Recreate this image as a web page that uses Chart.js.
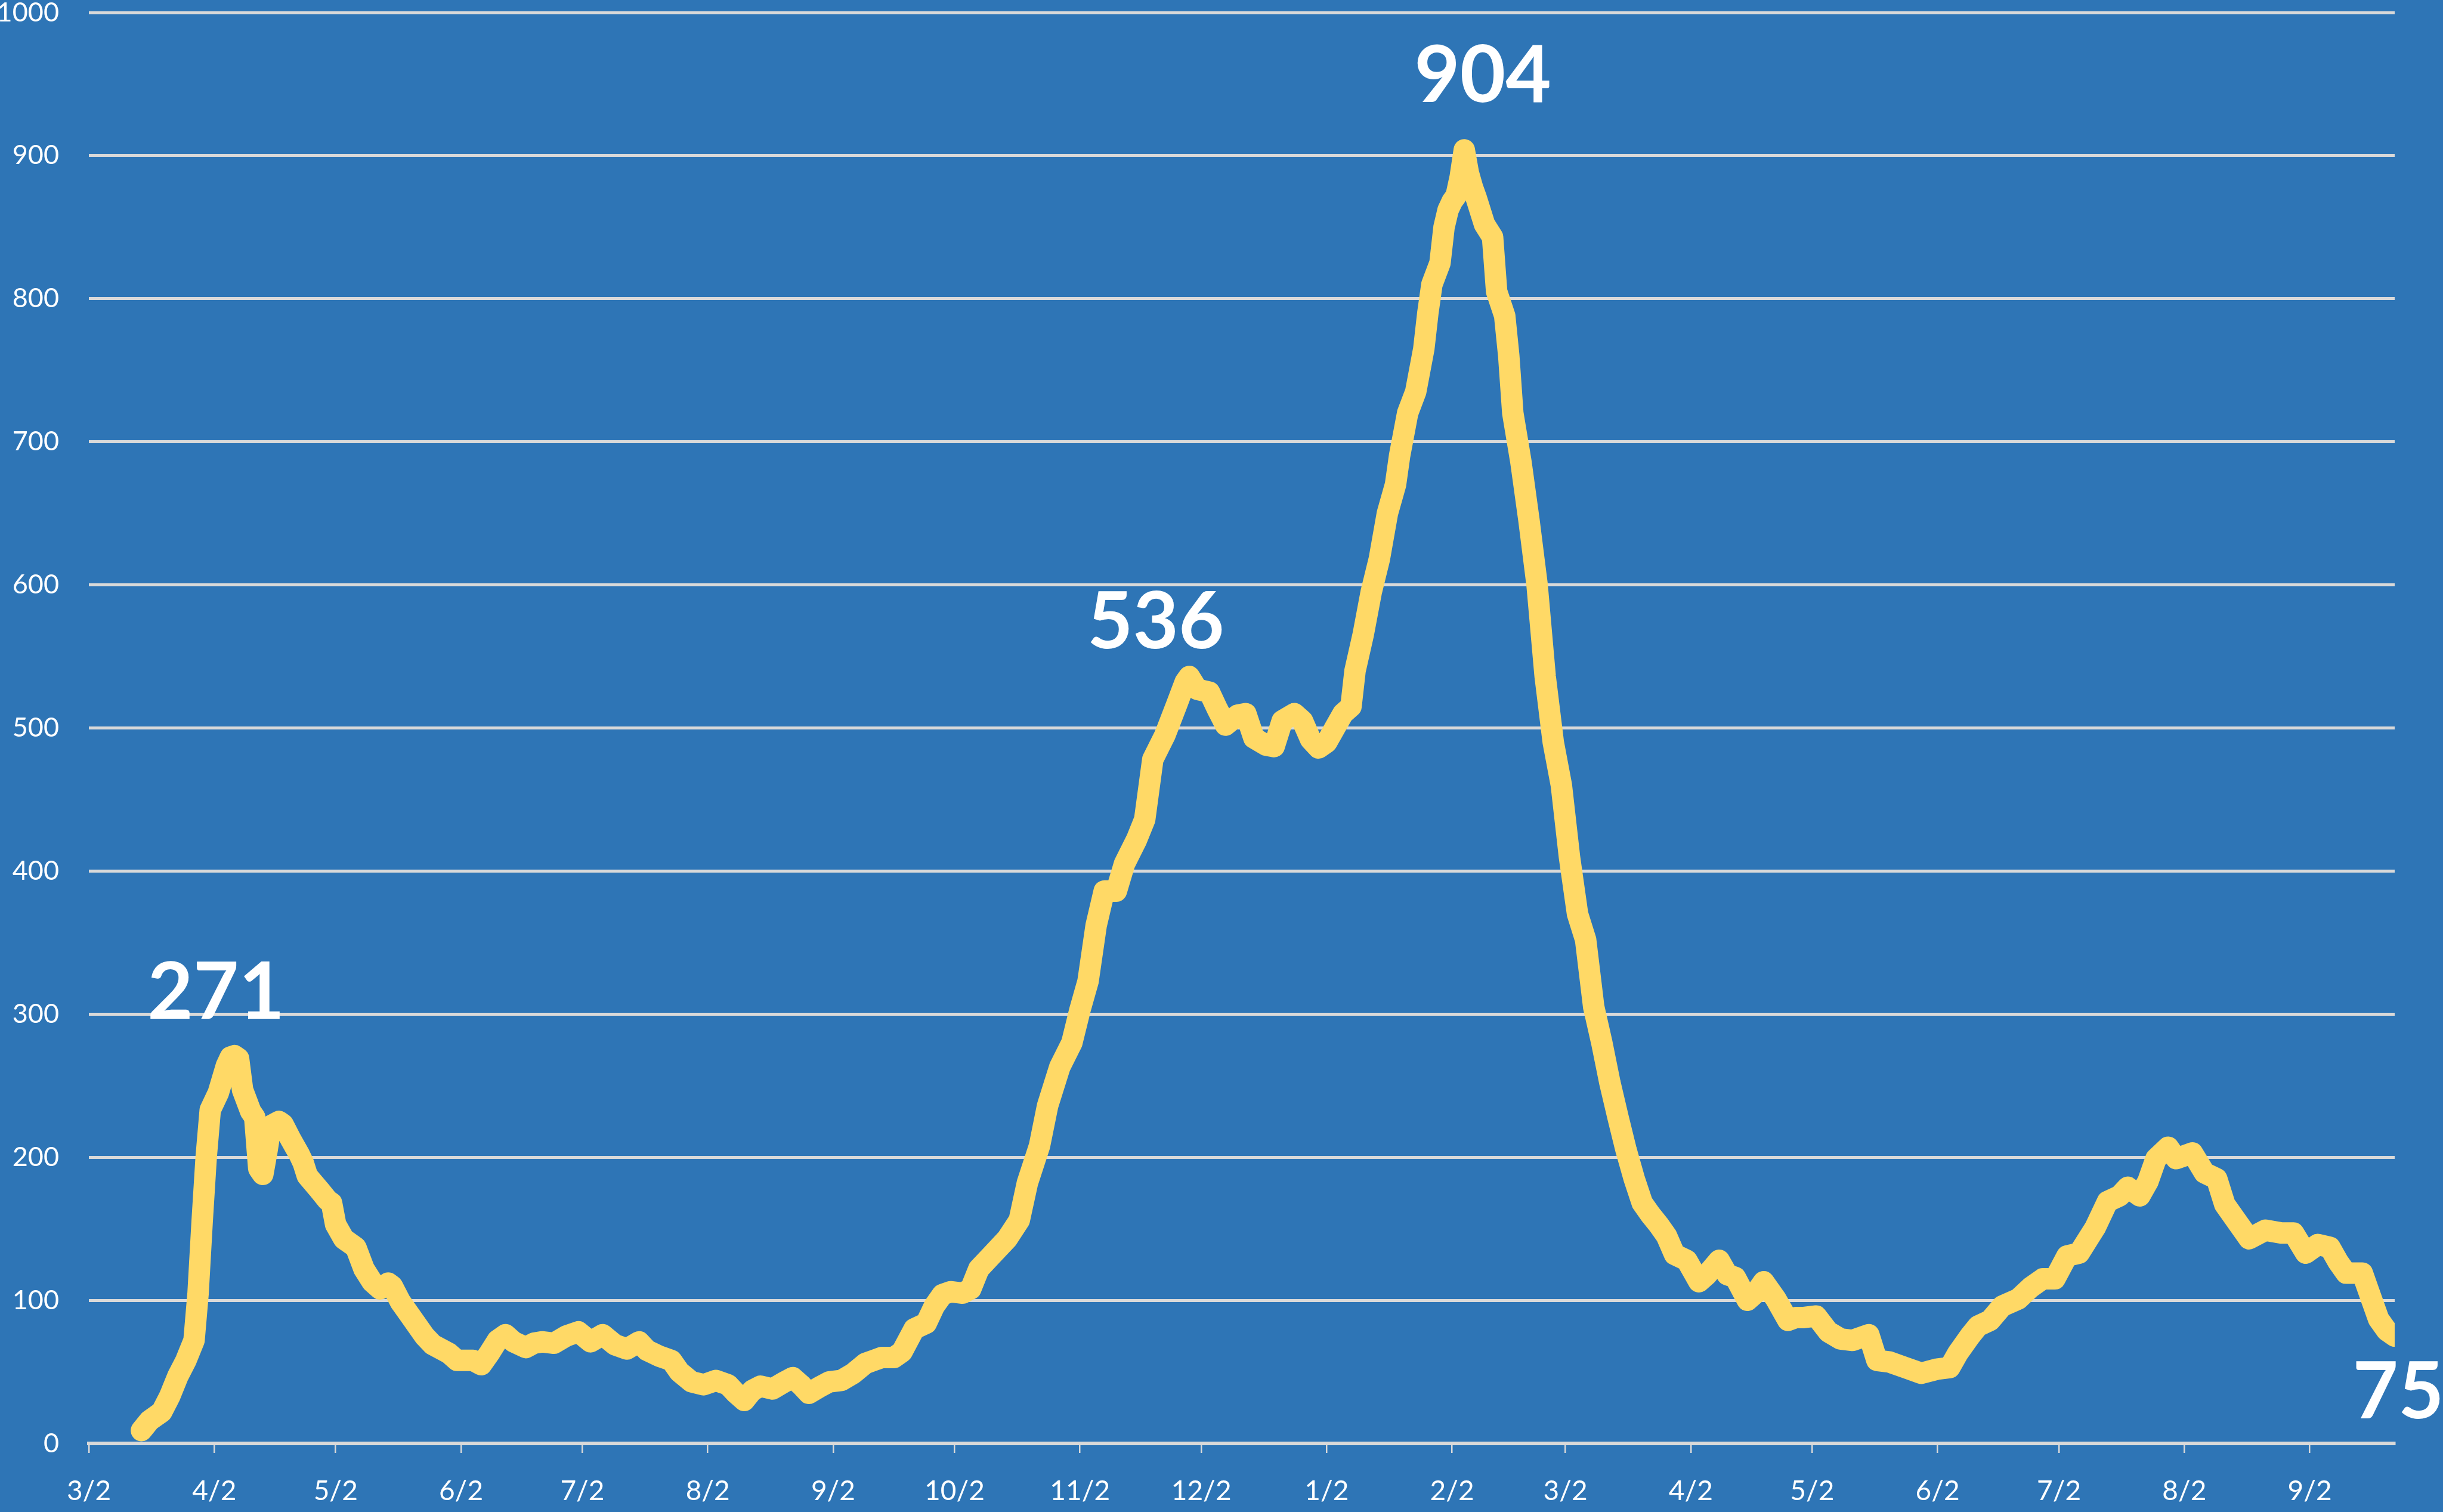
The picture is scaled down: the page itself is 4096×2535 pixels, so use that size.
<!DOCTYPE html>
<html>
<head>
<meta charset="utf-8">
<script src="https://cdn.jsdelivr.net/npm/chart.js@4.4.0/dist/chart.umd.min.js"></script>
<style>
  html, body { margin: 0; padding: 0; background: #2E75B6; }
  #wrap { width: 4096px; height: 2535px; }
</style>
</head>
<body>
<div id="wrap"><canvas id="chart" width="4096" height="2535"></canvas></div>
<script>
// daily figures (turning points of the curve)
const dates = [
  '2020-03-15','2020-03-17','2020-03-20','2020-03-22','2020-03-24','2020-03-26','2020-03-28','2020-03-29','2020-03-30','2020-03-31',
  '2020-04-01','2020-04-03','2020-04-05','2020-04-06','2020-04-07','2020-04-08','2020-04-09','2020-04-11','2020-04-12','2020-04-13','2020-04-14',
  '2020-04-15','2020-04-16','2020-04-18','2020-04-19','2020-04-21','2020-04-23','2020-04-24','2020-04-25','2020-04-28','2020-04-30',
  '2020-05-01','2020-05-02','2020-05-04','2020-05-07','2020-05-09','2020-05-11','2020-05-13','2020-05-15','2020-05-16','2020-05-18','2020-05-20',
  '2020-05-22','2020-05-24','2020-05-26','2020-05-28','2020-05-30',
  '2020-06-01','2020-06-03','2020-06-05','2020-06-07','2020-06-09','2020-06-11','2020-06-13','2020-06-15','2020-06-18','2020-06-20','2020-06-22',
  '2020-06-25','2020-06-28',
  '2020-07-01','2020-07-04','2020-07-07','2020-07-10','2020-07-13','2020-07-16','2020-07-18','2020-07-21','2020-07-24','2020-07-26','2020-07-29',
  '2020-08-01','2020-08-04','2020-08-07','2020-08-09','2020-08-11','2020-08-13','2020-08-15','2020-08-18','2020-08-21','2020-08-23','2020-08-25',
  '2020-08-27','2020-08-30',
  '2020-09-01','2020-09-04','2020-09-07','2020-09-10','2020-09-12','2020-09-14','2020-09-17','2020-09-19','2020-09-22','2020-09-25','2020-09-27',
  '2020-09-29',
  '2020-10-01','2020-10-04','2020-10-06','2020-10-08','2020-10-11','2020-10-15','2020-10-18','2020-10-20','2020-10-23','2020-10-25','2020-10-28',
  '2020-10-31',
  '2020-11-02','2020-11-04','2020-11-06','2020-11-08','2020-11-11','2020-11-13','2020-11-16','2020-11-18','2020-11-20','2020-11-23','2020-11-26',
  '2020-11-28','2020-11-29',
  '2020-12-01','2020-12-04','2020-12-06','2020-12-08','2020-12-11','2020-12-13','2020-12-15','2020-12-18','2020-12-20','2020-12-22','2020-12-25',
  '2020-12-27','2020-12-29','2020-12-31',
  '2021-01-02','2021-01-04','2021-01-06','2021-01-08','2021-01-09','2021-01-11','2021-01-13','2021-01-15','2021-01-17','2021-01-19','2021-01-20',
  '2021-01-22','2021-01-24','2021-01-26','2021-01-27','2021-01-28','2021-01-30','2021-01-31',
  '2021-02-01','2021-02-02','2021-02-03','2021-02-04','2021-02-05','2021-02-06','2021-02-07','2021-02-08','2021-02-10','2021-02-12','2021-02-13',
  '2021-02-15','2021-02-16','2021-02-17','2021-02-19','2021-02-21','2021-02-23','2021-02-25','2021-02-27',
  '2021-03-01','2021-03-03','2021-03-05','2021-03-07','2021-03-09','2021-03-11','2021-03-13','2021-03-15','2021-03-17','2021-03-19','2021-03-21',
  '2021-03-23','2021-03-25','2021-03-27','2021-03-29',
  '2021-04-01','2021-04-04','2021-04-06','2021-04-09','2021-04-11','2021-04-13','2021-04-16','2021-04-18','2021-04-20','2021-04-23','2021-04-26',
  '2021-04-28','2021-04-30',
  '2021-05-03','2021-05-06','2021-05-09','2021-05-12','2021-05-14','2021-05-16','2021-05-18','2021-05-21','2021-05-25','2021-05-29',
  '2021-06-02','2021-06-05','2021-06-07','2021-06-10','2021-06-12','2021-06-15','2021-06-18','2021-06-22','2021-06-25','2021-06-28',
  '2021-07-01','2021-07-04','2021-07-07','2021-07-11','2021-07-14','2021-07-17','2021-07-19','2021-07-22','2021-07-24','2021-07-26','2021-07-29',
  '2021-07-31',
  '2021-08-04','2021-08-07','2021-08-10','2021-08-12','2021-08-15','2021-08-18','2021-08-22','2021-08-26','2021-08-29',
  '2021-09-01','2021-09-04','2021-09-07','2021-09-09','2021-09-11','2021-09-15','2021-09-17','2021-09-19','2021-09-21','2021-09-23'
];

const cases = [
  9, 16, 22, 33, 47, 58, 72, 105, 155, 200,
  233, 245, 264, 270, 271, 269, 247, 232, 228, 192, 188,
  204, 222, 225, 223, 212, 202, 196, 187, 177, 170,
  168, 153, 143, 137, 122, 113, 108, 112, 110, 99, 91,
  83, 75, 69, 66, 63,
  58, 58, 58, 55, 63, 72, 76, 71, 67, 70, 71,
  70, 75,
  78, 71, 76, 69, 66, 71, 65, 61, 58, 50, 43,
  41, 44, 41, 35, 30, 37, 40, 38, 43, 46, 41,
  35, 40,
  43, 44, 49, 56, 58, 60, 60, 64, 80, 84, 96,
  104,
  106, 105, 108, 122, 131, 143, 156, 182, 208, 236, 263,
  280,
  303, 323, 362, 386, 386, 405, 422, 436, 478, 495, 517,
  532, 536,
  527, 525, 513, 502, 509, 510, 493, 488, 487, 505, 510,
  505, 492, 486,
  490, 500, 510, 515, 540, 565, 595, 618, 650, 670, 690,
  720, 735, 765, 790, 810, 825, 850,
  862, 868, 872, 885, 904, 888, 878, 870, 852, 843, 805,
  788, 760, 720, 686, 645, 600, 536, 490,
  460, 410, 370, 352, 305, 280, 252, 228, 205, 185, 168,
  160, 153, 145, 132,
  128, 113, 118, 128, 118, 116, 100, 105, 113, 101, 86,
  88, 88,
  89, 78, 73, 72, 74, 76, 58, 57, 53, 49,
  52, 53, 63, 75, 82, 86, 96, 101, 109, 115,
  115, 131, 133, 151, 169, 173, 179, 173, 183, 199, 207,
  199,
  203, 189, 185, 167, 155, 143, 149, 147, 147,
  133, 139, 137, 127, 119, 119, 103, 87, 79, 75
];

const axisStart = '2020-03-02';
const axisEnd = '2021-09-23';
const tickDates = [
  '2020-03-02','2020-04-02','2020-05-02','2020-06-02','2020-07-02','2020-08-02','2020-09-02','2020-10-02','2020-11-02','2020-12-02',
  '2021-01-02','2021-02-02','2021-03-02','2021-04-02','2021-05-02','2021-06-02','2021-07-02','2021-08-02','2021-09-02'
];
const tickLabels = ['3/2','4/2','5/2','6/2','7/2','8/2','9/2','10/2','11/2','12/2','1/2','2/2','3/2','4/2','5/2','6/2','7/2','8/2','9/2'];

const calloutDates = ['2020-04-07', '2020-11-29', '2021-02-05', '2021-09-23'];
const calloutValues = [271, 536, 904, 75];

// pixel nudges of the big numbers relative to their points
const calloutOffsets = [[-31, -109], [-56, -95], [31, -128], [6, 90]];

const DAY_MS = 86400000;
const startMs = Date.parse(axisStart);
const dayOf = (iso) => Math.round((Date.parse(iso) - startMs) / DAY_MS);

const GRID = '#D9D9D9';
const FONT = 'Lato, "Open Sans", "Noto Sans", sans-serif';

const bgPlugin = {
  id: 'bg',
  beforeDraw(chart) {
    const ctx = chart.ctx;
    ctx.save();
    ctx.fillStyle = '#2E75B6';
    ctx.fillRect(0, 0, chart.width, chart.height);
    ctx.restore();
  },
};

const calloutPlugin = {
  id: 'callouts',
  afterDatasetsDraw(chart) {
    const { ctx, scales } = chart;
    const size = 132;
    ctx.save();
    ctx.fillStyle = '#FFFFFF';
    ctx.font = `bold ${size}px ${FONT}`;
    ctx.textAlign = 'center';
    ctx.textBaseline = 'alphabetic';
    calloutDates.forEach((d, i) => {
      const x = scales.x.getPixelForValue(dayOf(d)) + calloutOffsets[i][0];
      const yCenter = scales.y.getPixelForValue(calloutValues[i]) + calloutOffsets[i][1];
      ctx.fillText(String(calloutValues[i]), x, yCenter + size * 0.36);
    });
    ctx.restore();
  },
};

new Chart(document.getElementById('chart'), {
  type: 'line',
  data: {
    datasets: [
      {
        data: dates.map((d, i) => ({ x: dayOf(d), y: cases[i] })),
        borderColor: '#FFD966',
        borderWidth: 36,
        borderCapStyle: 'round',
        borderJoinStyle: 'round',
        pointRadius: 0,
        tension: 0,
        fill: false,
      },
    ],
  },
  options: {
    responsive: false,
    devicePixelRatio: 1,
    animation: false,
    layout: { padding: { top: 21, right: 81, left: 0, bottom: 0 } },
    plugins: {
      legend: { display: false },
      tooltip: { enabled: false },
    },
    scales: {
      x: {
        type: 'linear',
        min: 0,
        max: dayOf(axisEnd),
        afterBuildTicks: (scale) => {
          scale.ticks = tickDates.map((d) => ({ value: dayOf(d) }));
        },
        afterFit: (scale) => {
          scale.height = 115;
          scale.paddingLeft = 0;
          scale.paddingRight = 0;
        },
        ticks: {
          autoSkip: false,
          maxRotation: 0,
          color: '#FFFFFF',
          font: { family: FONT, size: 46 },
          padding: 37,
          callback: (value, index) => tickLabels[index],
        },
        grid: {
          drawOnChartArea: false,
          drawTicks: true,
          tickLength: 16,
          color: GRID,
          lineWidth: 2.5,
        },
        border: { display: true, color: GRID, width: 6 },
      },
      y: {
        min: 0,
        max: 1000,
        afterFit: (scale) => {
          scale.width = 149;
          scale.paddingTop = 0;
          scale.paddingBottom = 0;
        },
        ticks: {
          stepSize: 100,
          color: '#FFFFFF',
          font: { family: FONT, size: 45 },
          padding: 50,
          callback: (value) => String(value),
        },
        grid: {
          color: GRID,
          lineWidth: 5,
          drawTicks: false,
        },
        border: { display: false },
      },
    },
  },
  plugins: [bgPlugin, calloutPlugin],
});
</script>
</body>
</html>
